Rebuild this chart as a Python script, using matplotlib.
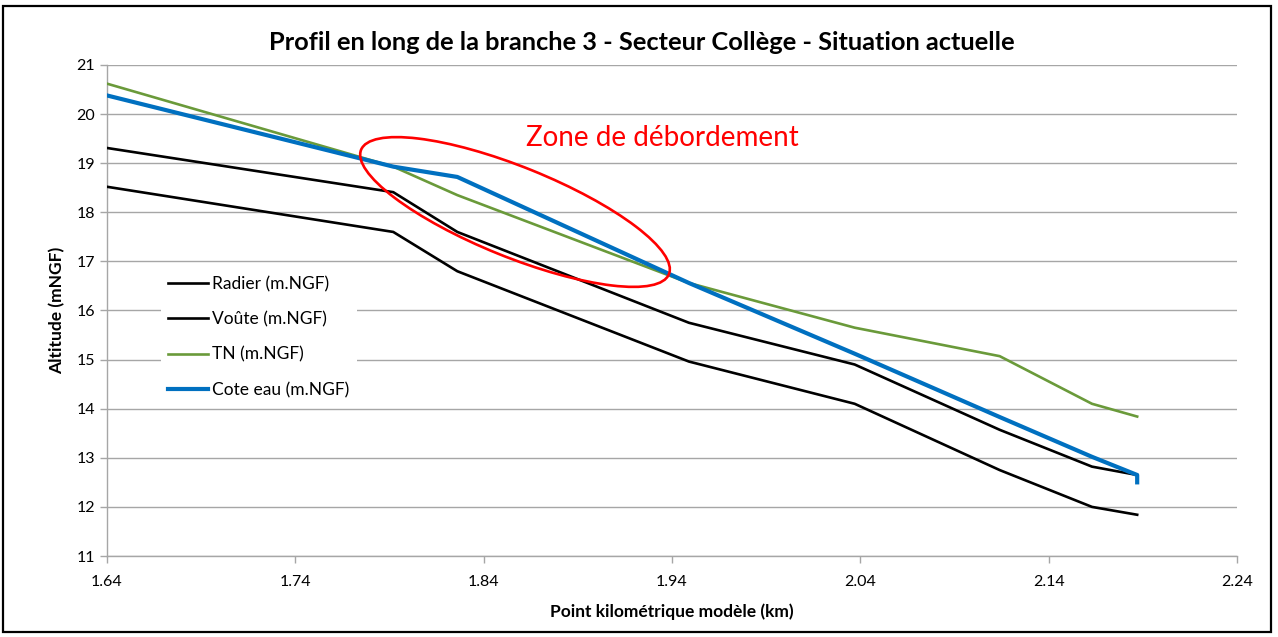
import matplotlib.pyplot as plt
from matplotlib.patches import Ellipse, Rectangle

# ------------------------------------------------------------------------------
# Data
# ------------------------------------------------------------------------------
pk = [1.64, 1.792, 1.826, 1.949, 2.037, 2.114, 2.163, 2.187]
radier = [18.52, 17.60, 16.80, 14.96, 14.10, 12.75, 12.00, 11.84]
voute = [19.31, 18.41, 17.60, 15.75, 14.90, 13.57, 12.82, 12.65]
tn = [20.62, 18.93, 18.35, 16.56, 15.65, 15.07, 14.10, 13.84]
pk_eau = [1.64, 1.792, 1.826, 1.949, 2.037, 2.114, 2.163, 2.187, 2.187]
cote_eau = [20.38, 18.93, 18.72, 16.56, 15.12, 13.83, 13.02, 12.65, 12.50]

x_ticks = [1.64, 1.74, 1.84, 1.94, 2.04, 2.14, 2.24]
y_ticks = list(range(11, 22))

title = 'Profil en long de la branche 3 - Secteur Collège - Situation actuelle'
zone_label = 'Zone de débordement'

# ------------------------------------------------------------------------------
# Figure
# ------------------------------------------------------------------------------
plt.rcParams['font.family'] = ['Lato', 'DejaVu Sans']

W, H = 1278, 637
fig = plt.figure(figsize=(W / 100, H / 100), dpi=100)
ax = fig.add_axes([107 / W, 1 - 556 / H, 1130 / W, 491 / H])

grid_col = '#a6a6a6'
col_black = 'black'
col_green = '#6a9a3a'
col_blue = '#0070c0'

ax.plot(pk, radier, color=col_black, lw=1.9, label='Radier (m.NGF)', zorder=3)
ax.plot(pk, voute, color=col_black, lw=1.9, label='Voûte (m.NGF)', zorder=3)
ax.plot(pk, tn, color=col_green, lw=1.9, label='TN (m.NGF)', zorder=3)
ax.plot(pk_eau, cote_eau, color=col_blue, lw=3.0, label='Cote eau (m.NGF)',
        zorder=4)

ax.set_xlim(1.64, 2.24)
ax.set_ylim(11, 21)
ax.set_xticks(x_ticks)
ax.set_xticklabels(['%.2f' % v for v in x_ticks])
ax.set_yticks(y_ticks)

ax.grid(axis='y', color=grid_col, lw=1.0, zorder=0)
ax.set_axisbelow(True)
for side in ['top', 'right']:
    ax.spines[side].set_visible(False)
for side in ['left', 'bottom']:
    ax.spines[side].set_color(grid_col)
    ax.spines[side].set_linewidth(1.0)
ax.tick_params(axis='both', colors=grid_col, labelcolor='black',
               labelsize=11.5, length=5, width=1.0)
ax.tick_params(axis='x', pad=9)

ax.set_xlabel('Point kilométrique modèle (km)', fontsize=12.5,
              fontweight='bold', labelpad=10)
ax.set_ylabel('Altitude (mNGF)', fontsize=12.5, fontweight='bold',
              labelpad=8)
fig.text(642 / W, 1 - 42 / H, title, ha='center', va='center',
         fontsize=18.3, fontweight='bold')

leg = ax.legend(loc='upper left', bbox_to_anchor=(0.048, 0.584),
                borderaxespad=0, fontsize=12.5, frameon=True, fancybox=False,
                framealpha=1, edgecolor='none', facecolor='white',
                handlelength=2.3, handletextpad=0.25, labelspacing=1.1,
                borderpad=0.4)
leg.set_zorder(5)

# Overflow zone annotation
ell = Ellipse((515 / 100, (H - 212) / 100), 3.32, 0.90, angle=-22,
              transform=fig.dpi_scale_trans, fill=False, edgecolor='#ff0000',
              lw=1.9, zorder=6)
fig.add_artist(ell)
fig.text(662 / W, 1 - 138 / H, zone_label, color='#ff0000', fontsize=20,
         ha='center', va='center')

# Chart border
fig.add_artist(Rectangle((3 / W, 5 / H), 1268 / W, 626 / H,
                         transform=fig.transFigure, fill=False,
                         edgecolor='black', lw=1.6))

plt.savefig('out.png', dpi=100)
